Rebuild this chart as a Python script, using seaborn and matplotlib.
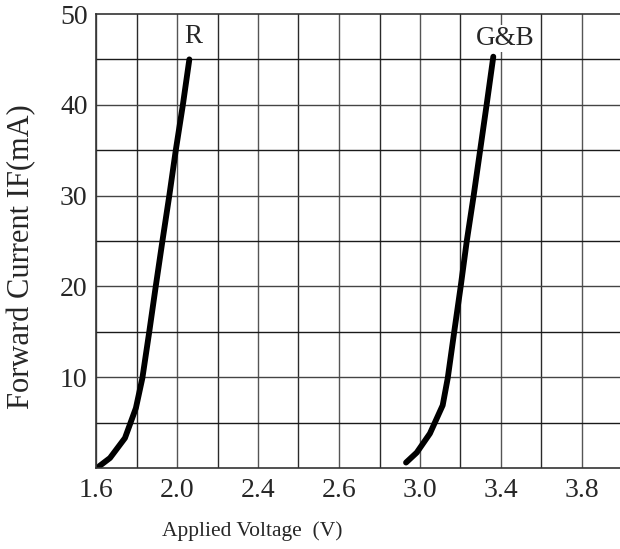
import matplotlib
matplotlib.use("Agg")
import matplotlib.pyplot as plt
import seaborn as sns
import pandas as pd
import numpy as np

# Data (x in grid units of voltage: each grid line = 0.2 V from 1.6)
r_voltage = [1.616, 1.669, 1.743, 1.797, 1.829, 1.863, 1.895, 1.928, 1.962, 1.994, 2.029, 2.061]
r_current = [0.2, 1.1, 3.3, 6.6, 9.9, 15.0, 20.0, 25.0, 30.0, 35.0, 40.0, 45.0]
gb_voltage = [3.131, 3.184, 3.249, 3.312, 3.337, 3.369, 3.401, 3.431, 3.465, 3.497, 3.529, 3.562]
gb_current = [0.6, 1.7, 3.8, 6.9, 9.9, 15.0, 20.0, 25.0, 30.0, 35.0, 40.0, 45.3]

x_tick_pos = [1.6, 2.0, 2.4, 2.8, 3.2, 3.6, 4.0]
x_tick_labels = ["1.6", "2.0", "2.4", "2.6", "3.0", "3.4", "3.8"]
y_tick_pos = [10, 20, 30, 40, 50]
y_tick_labels = ["10", "20", "30", "40", "50"]
series_labels = ["R", "G&B"]

df = pd.concat([
    pd.DataFrame({"V": r_voltage, "I": r_current, "s": series_labels[0]}),
    pd.DataFrame({"V": gb_voltage, "I": gb_current, "s": series_labels[1]}),
])

sns.set_style("white")
plt.rcParams["font.family"] = ["Liberation Serif", "DejaVu Serif"]

fig = plt.figure(figsize=(6.2, 5.49), dpi=100)
ax = fig.add_axes([96 / 620, (549 - 468) / 549, 1 - 96 / 620, (468 - 14) / 549])

sns.lineplot(data=df, x="V", y="I", units="s", estimator=None, sort=False,
             color="black", lw=4.2, ax=ax, legend=False)

ax.set_xlim(1.6, 1.6 + 0.2 * 524 / 40.5)
ax.set_ylim(0, 50)

grid_x = np.arange(1.6, 4.01, 0.2)
for i, gx in enumerate(grid_x):
    ax.axvline(gx, color="#2a2a2a" if i % 2 else "#555555", lw=1.0, zorder=0)
for j, gy in enumerate(range(5, 50, 5)):
    ax.axhline(gy, color="#1a1a1a" if j % 2 == 0 else "#444444", lw=1.0, zorder=0)

ax.set_xticks(x_tick_pos)
ax.set_xticklabels(x_tick_labels, fontsize=20)
ax.set_yticks(y_tick_pos)
ax.set_yticklabels(y_tick_labels, fontsize=20)
ax.tick_params(axis="x", length=0, pad=7)
ax.tick_params(axis="y", length=0, pad=6)

ax.spines["right"].set_visible(False)
for side in ["left", "bottom", "top"]:
    ax.spines[side].set_color("#333333")
    ax.spines[side].set_linewidth(1.2)

ax.set_xlabel("Applied Voltage  (V)", fontsize=15.5)
ax.xaxis.set_label_coords((252 - 96) / 524, -(531 - 468) / 454, transform=ax.transAxes)
ax.xaxis.label.set_va("center")
ax.set_ylabel("Forward Current IF(mA)", fontsize=22)
ax.yaxis.set_label_coords(-(96 - 22) / 524, (468 - 257) / 454, transform=ax.transAxes)
ax.yaxis.label.set_va("center")

ax.text(2.078, 47.5, series_labels[0], fontsize=19.5, ha="center", va="center")
ax.text(3.62, 47.3, series_labels[1], fontsize=19.5, ha="center", va="center",
        bbox=dict(facecolor="white", edgecolor="none", pad=1))

fig.savefig("out.png", dpi=100)
